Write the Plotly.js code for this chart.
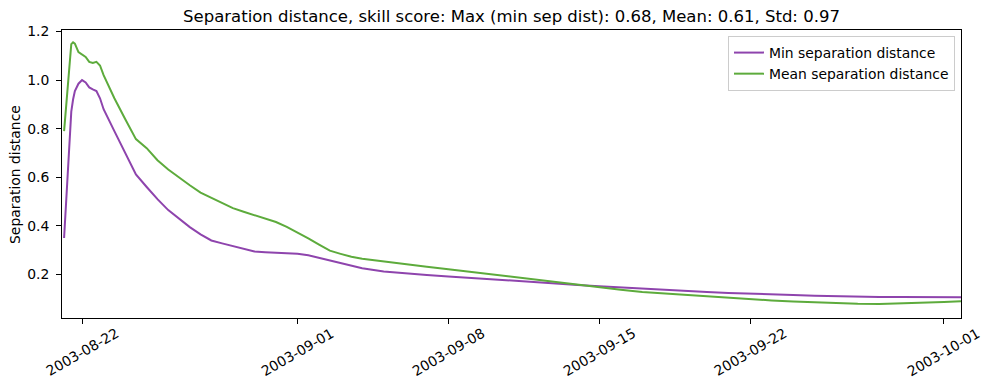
<!DOCTYPE html>
<html>
<head>
<meta charset="utf-8">
<script src="https://cdn.plot.ly/plotly-3.0.1.min.js"></script>
<style>html,body{margin:0;padding:0;background:#fff;}#chart{width:989px;height:390px;}</style>
</head>
<body>
<div id="chart"></div>
<script>
const times = [
 '2003-08-21 04:00','2003-08-21 08:00','2003-08-21 12:00','2003-08-21 14:00','2003-08-21 16:00','2003-08-21 20:00',
 '2003-08-22 00:00','2003-08-22 04:00','2003-08-22 08:00','2003-08-22 12:00','2003-08-22 16:00','2003-08-22 20:00',
 '2003-08-23 00:00','2003-08-23 12:00','2003-08-24 00:00','2003-08-24 12:00','2003-08-25 00:00','2003-08-25 12:00',
 '2003-08-26 00:00','2003-08-26 12:00','2003-08-27 00:00','2003-08-27 12:00','2003-08-28 00:00','2003-08-28 12:00',
 '2003-08-29 00:00','2003-08-29 12:00','2003-08-30 00:00','2003-08-30 12:00','2003-08-31 00:00','2003-08-31 12:00',
 '2003-09-01 00:00','2003-09-01 12:00','2003-09-02 00:00','2003-09-02 12:00','2003-09-03 00:00','2003-09-03 12:00',
 '2003-09-04 00:00','2003-09-05 00:00','2003-09-06 00:00','2003-09-07 00:00','2003-09-08 00:00','2003-09-09 00:00',
 '2003-09-10 00:00','2003-09-11 00:00','2003-09-12 00:00','2003-09-13 00:00','2003-09-14 00:00','2003-09-15 00:00',
 '2003-09-16 00:00','2003-09-17 00:00','2003-09-18 00:00','2003-09-19 00:00','2003-09-20 00:00','2003-09-21 00:00',
 '2003-09-22 00:00','2003-09-23 00:00','2003-09-24 00:00','2003-09-25 00:00','2003-09-26 00:00','2003-09-27 00:00',
 '2003-09-28 00:00','2003-09-29 00:00','2003-09-30 00:00','2003-10-01 00:00','2003-10-01 19:00'
];
const minSep = [
 0.35,0.60,0.87,0.92,0.955,0.985,
 1.0,0.99,0.97,0.962,0.955,0.925,
 0.88,0.79,0.70,0.612,0.56,0.51,
 0.465,0.43,0.395,0.365,0.34,0.328,
 0.316,0.305,0.295,0.292,0.29,0.288,
 0.285,0.279,0.268,0.258,0.248,0.237,
 0.226,0.212,0.204,0.198,0.192,0.186,
 0.178,0.172,0.168,0.162,0.157,0.152,
 0.147,0.141,0.136,0.132,0.128,0.124,
 0.122,0.119,0.116,0.113,0.110,0.108,
 0.107,0.107,0.106,0.106,0.106
];
const meanSep = [
 0.79,0.96,1.148,1.155,1.15,1.115,
 1.105,1.095,1.075,1.07,1.075,1.06,
 1.02,0.925,0.84,0.757,0.72,0.67,
 0.632,0.598,0.567,0.537,0.516,0.495,
 0.473,0.458,0.443,0.43,0.416,0.396,
 0.374,0.349,0.323,0.298,0.285,0.273,
 0.265,0.253,0.243,0.232,0.222,0.211,
 0.200,0.189,0.178,0.167,0.157,0.146,
 0.137,0.128,0.122,0.114,0.108,0.102,
 0.097,0.093,0.089,0.085,0.082,0.080,
 0.079,0.081,0.083,0.087,0.090
];
const xTickVals = ['2003-08-22','2003-09-01','2003-09-08','2003-09-15','2003-09-22','2003-10-01'];
const xTickText = ['2003-08-22','2003-09-01','2003-09-08','2003-09-15','2003-09-22','2003-10-01'];
const yTickVals = [0.2,0.4,0.6,0.8,1.0,1.2];
const titleText = 'Separation distance, skill score: Max (min sep dist): 0.68, Mean: 0.61, Std: 0.97';
const yTitle = 'Separation distance';
const seriesNames = ['Min separation distance','Mean separation distance'];

const FONT = 'DejaVu Sans, sans-serif';
const traces = [
 {x: times, y: minSep, type: 'scatter', mode: 'lines', name: seriesNames[0], line: {color: '#8e44ad', width: 2}},
 {x: times, y: meanSep, type: 'scatter', mode: 'lines', name: seriesNames[1], line: {color: '#5dab3c', width: 2}}
];
const annotations = xTickVals.map((d, i) => ({
 x: d, xref: 'x', y: -0.118, yref: 'paper', text: xTickText[i], showarrow: false,
 textangle: -30, xanchor: 'center', yanchor: 'middle', font: {family: FONT, size: 13.9, color: '#000'}
}));
annotations.push({
 x: -0.0523, xref: 'paper', y: 0.5, yref: 'paper', text: yTitle, showarrow: false,
 textangle: -90, xanchor: 'center', yanchor: 'middle', font: {family: FONT, size: 13.9, color: '#000'}
});
const layout = {
 width: 989, height: 390,
 margin: {l: 62, r: 28, t: 30, b: 72, pad: 0},
 paper_bgcolor: '#fff', plot_bgcolor: '#fff',
 font: {family: FONT, size: 13.9, color: '#000'},
 title: {text: titleText, font: {family: FONT, size: 16.5, color: '#000'}, x: 0.5, xref: 'paper', y: 1 - 16/390, yref: 'container', yanchor: 'middle'},
 xaxis: {type: 'date', range: ['2003-08-21 01:40', '2003-10-01 19:00'], tickmode: 'array', tickvals: xTickVals,
   showticklabels: false, ticks: 'outside', ticklen: 5, tickwidth: 1, tickcolor: '#000',
   showgrid: false, zeroline: false, showline: true, linecolor: '#000', linewidth: 1, mirror: true},
 yaxis: {range: [0.021, 1.206], tickmode: 'array', tickvals: yTickVals, tickformat: '.1f',
   ticks: 'outside', ticklen: 5, tickwidth: 1, tickcolor: '#000', ticklabelstandoff: 4,
   tickfont: {family: FONT, size: 13.9, color: '#000'},
   showgrid: false, zeroline: false, showline: true, linecolor: '#000', linewidth: 1, mirror: true},
 legend: {x: 0.9933, xanchor: 'right', y: 0.979, yanchor: 'top', bgcolor: 'rgba(255,255,255,0.8)',
   bordercolor: '#cccccc', borderwidth: 1, font: {family: FONT, size: 13.9, color: '#000'}, itemwidth: 30},
 showlegend: true,
 annotations: annotations
};
Plotly.newPlot('chart', traces, layout, {staticPlot: true, displayModeBar: false});
</script>
</body>
</html>
